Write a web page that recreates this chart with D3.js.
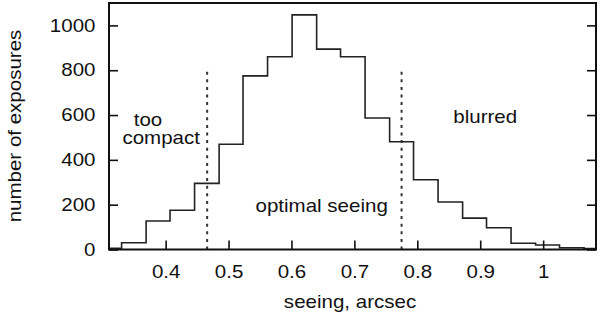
<!DOCTYPE html>
<html>
<head>
<meta charset="utf-8">
<script src="https://cdn.jsdelivr.net/npm/d3@7"></script>
<style>
  body { margin: 0; background: #fff; }
  svg { display: block; }
  text { font-family: "Liberation Sans", Arial, sans-serif; fill: #111; }
</style>
</head>
<body>
<div id="chart"></div>
<script>
// histogram of seeing values
var binEdges = [0.291, 0.330, 0.369, 0.407, 0.446, 0.485, 0.523, 0.562, 0.601, 0.640, 0.678,
                0.717, 0.756, 0.794, 0.833, 0.872, 0.910, 0.949, 0.988, 1.026, 1.065, 1.104];
var counts = [5, 30, 127, 175, 295, 470, 775, 860, 1047, 894, 860,
              587, 481, 311, 212, 140, 97, 28, 20, 8, 4];

var xTicks = [0.4, 0.5, 0.6, 0.7, 0.8, 0.9, 1];
var yTicks = [0, 200, 400, 600, 800, 1000];

// region limits (dotted lines) and labels
var limits = [0.466, 0.775];
var limitTop = 800;
var notes = [
    {text: "too", x: 0.372, y: 550},
    {text: "compact", x: 0.393, y: 469},
    {text: "optimal seeing", x: 0.648, y: 169},
    {text: "blurred", x: 0.908, y: 563}
];

var width = 600;
var height = 316;
var margin = {top: 3, left: 109, right: 4, bottom: 66.5};
var stretch = 1.14;

var svg = d3.select("#chart")
    .append("svg")
    .attr("width", width)
    .attr("height", height);

var xScale = d3.scaleLinear()
    .domain([0.31, 1.084])
    .range([margin.left, width - margin.right]);

var yScale = d3.scaleLinear()
    .domain([0, 1100])
    .range([height - margin.bottom, margin.top]);

svg.append("clipPath")
    .attr("id", "plot-clip")
    .append("rect")
    .attr("x", xScale.range()[0])
    .attr("y", yScale.range()[1])
    .attr("width", xScale.range()[1] - xScale.range()[0])
    .attr("height", yScale.range()[0] - yScale.range()[1]);

// step line
var stepPoints = counts.map(function(c, i) { return [binEdges[i], c]; });
stepPoints.push([binEdges[binEdges.length - 1], counts[counts.length - 1]]);

var line = d3.line()
    .x(function(d) { return xScale(d[0]); })
    .y(function(d) { return yScale(d[1]); })
    .curve(d3.curveStepAfter);

svg.append("path")
    .datum(stepPoints)
    .attr("clip-path", "url(#plot-clip)")
    .attr("d", line)
    .attr("fill", "none")
    .attr("stroke", "#222")
    .attr("stroke-width", 1.6);

// dotted limits
svg.selectAll(".limit")
    .data(limits)
    .enter()
    .append("line")
        .attr("class", "limit")
        .attr("x1", function(d) { return xScale(d); })
        .attr("x2", function(d) { return xScale(d); })
        .attr("y1", yScale(0))
        .attr("y2", yScale(limitTop))
        .attr("stroke", "#333")
        .attr("stroke-width", 2)
        .attr("stroke-dasharray", "3,4.6");

// axes with inward ticks, labels a bit wider than plain Arial
function stretchText(sel) {
    sel.selectAll(".tick text").each(function() {
        var t = d3.select(this);
        var x = +t.attr("x") || 0;
        var y = +t.attr("y") || 0;
        t.attr("x", 0).attr("y", 0)
         .attr("transform", "translate(" + x + "," + y + ") scale(" + stretch + ",1)");
    });
    sel.selectAll(".tick text").attr("font-size", 18).style("fill", "#111");
    sel.attr("font-family", null);
}

var xAxis = svg.append("g")
    .attr("transform", "translate(0," + yScale(0) + ")")
    .call(d3.axisBottom(xScale).tickValues(xTicks).tickSizeInner(-9).tickSizeOuter(0).tickPadding(16)
        .tickFormat(d3.format("")));
stretchText(xAxis);

var yAxis = svg.append("g")
    .attr("transform", "translate(" + xScale.range()[0] + ",0)")
    .call(d3.axisLeft(yScale).tickValues(yTicks).tickSizeInner(-9).tickSizeOuter(0).tickPadding(13.5)
        .tickFormat(d3.format("d")));
stretchText(yAxis);

var yAxisRight = svg.append("g")
    .attr("transform", "translate(" + xScale.range()[1] + ",0)")
    .call(d3.axisRight(yScale).tickValues(yTicks).tickSizeInner(-9).tickSizeOuter(0).tickFormat(""));

svg.selectAll(".domain").remove();
svg.selectAll(".tick line").attr("stroke", "#111").attr("stroke-width", 1.6);

// frame
svg.append("rect")
    .attr("x", xScale.range()[0])
    .attr("y", yScale.range()[1])
    .attr("width", xScale.range()[1] - xScale.range()[0])
    .attr("height", yScale.range()[0] - yScale.range()[1])
    .attr("fill", "none")
    .attr("stroke", "#111")
    .attr("stroke-width", 2);

// annotations
svg.selectAll(".note")
    .data(notes)
    .enter()
    .append("text")
        .attr("class", "note")
        .attr("text-anchor", "middle")
        .attr("font-size", 18)
        .attr("transform", function(d) {
            return "translate(" + xScale(d.x) + "," + yScale(d.y) + ") scale(" + stretch + ",1)";
        })
        .text(function(d) { return d.text; });

var xAxisLabel = svg.append("text")
    .attr("text-anchor", "middle")
    .attr("font-size", 18)
    .attr("transform", "translate(350,308) scale(" + stretch + ",1)")
    .text("seeing, arcsec");

var yAxisLabel = svg.append("text")
    .attr("text-anchor", "middle")
    .attr("font-size", 18)
    .attr("transform", "translate(20.5,126) rotate(-90) scale(" + stretch + ",1)")
    .text("number of exposures");
</script>
</body>
</html>
